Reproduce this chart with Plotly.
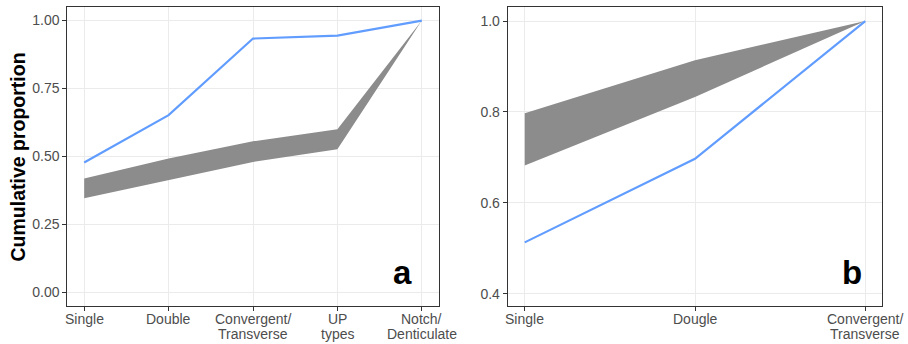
import plotly.graph_objects as go

# Panel a
cats_a = ["Single", "Double", "Convergent/<br>Transverse", "UP<br>types", "Notch/<br>Denticulate"]
blue_a = [0.478, 0.652, 0.934, 0.945, 1.0]
ribbon_hi_a = [0.419, 0.493, 0.556, 0.600, 1.0]
ribbon_lo_a = [0.346, 0.414, 0.480, 0.527, 1.0]

# Panel b
cats_b = ["Single", "Dougle", "Convergent/<br>Transverse"]
blue_b = [0.513, 0.697, 1.0]
ribbon_hi_b = [0.797, 0.914, 1.0]
ribbon_lo_b = [0.682, 0.833, 1.0]

yticks_a = [0.0, 0.25, 0.5, 0.75, 1.0]
yticklabels_a = ["0.00", "0.25", "0.50", "0.75", "1.00"]
yticks_b = [0.4, 0.6, 0.8, 1.0]
yticklabels_b = ["0.4", "0.6", "0.8", "1.0"]

BLUE = "#619CFF"
GREY = "#8c8c8c"
FONT = "Liberation Sans, Arial, sans-serif"
H = 344
W = 908

fig = go.Figure()
annotations = []

def add_panel(cats, blue, hi, lo, xa, ya):
    idx = list(range(len(cats)))
    fig.add_trace(go.Scatter(
        x=idx + idx[::-1], y=hi + lo[::-1], fill="toself", mode="lines",
        line=dict(width=0), fillcolor=GREY, hoverinfo="skip", showlegend=False,
        xaxis=xa, yaxis=ya))
    fig.add_trace(go.Scatter(
        x=idx, y=blue, mode="lines", line=dict(color=BLUE, width=2.2),
        showlegend=False, xaxis=xa, yaxis=ya))
    # category labels with tight line spacing (like ggplot)
    for i, c in zip(idx, cats):
        for j, line in enumerate(c.split("<br>")):
            annotations.append(dict(
                text=line, x=i, xref=xa, y=(H - (319 + 15 * j)) / H, yref="paper",
                xanchor="center", yanchor="middle", showarrow=False,
                font=dict(family=FONT, size=14, color="#4d4d4d")))

add_panel(cats_a, blue_a, ribbon_hi_a, ribbon_lo_a, "x", "y")
add_panel(cats_b, blue_b, ribbon_hi_b, ribbon_lo_b, "x2", "y2")

ax_common = dict(
    showline=True, linecolor="#333333", linewidth=1, mirror=True,
    showgrid=True, gridcolor="#ebebeb", gridwidth=1, zeroline=False,
    ticks="outside", ticklen=4, tickcolor="#333333", tickwidth=1,
    tickfont=dict(family=FONT, size=14, color="#4d4d4d"),
    automargin=False,
)

annotations += [
    dict(text="<b>Cumulative proportion</b>", x=17 / W, y=(H - 157.5) / H,
         xref="paper", yref="paper", xanchor="center", yanchor="middle",
         showarrow=False, textangle=-90, font=dict(family=FONT, size=19.5, color="black")),
    dict(text="<b>a</b>", x=402 / W, y=(H - 272.5) / H, xref="paper", yref="paper",
         xanchor="center", yanchor="middle",
         showarrow=False, font=dict(family=FONT, size=33, color="black")),
    dict(text="<b>b</b>", x=852 / W, y=(H - 272.5) / H, xref="paper", yref="paper",
         xanchor="center", yanchor="middle",
         showarrow=False, font=dict(family=FONT, size=33, color="black")),
]

ydom = [(H - 306) / H, (H - 7) / H]
fig.update_layout(
    width=W, height=H, margin=dict(l=0, r=0, t=0, b=0),
    plot_bgcolor="white", paper_bgcolor="white",
    xaxis=dict(domain=[67.3 / W, 438.7 / W], range=[-0.2, 4.2],
               tickvals=list(range(len(cats_a))), showticklabels=False, anchor="y", **ax_common),
    yaxis=dict(domain=ydom, range=[-0.05, 1.05], tickvals=yticks_a, ticktext=yticklabels_a,
               anchor="x", **ax_common),
    xaxis2=dict(domain=[507.7 / W, 882.3 / W], range=[-0.1, 2.1],
                tickvals=list(range(len(cats_b))), showticklabels=False, anchor="y2", **ax_common),
    yaxis2=dict(domain=ydom, range=[0.373, 1.031], tickvals=yticks_b, ticktext=yticklabels_b,
                anchor="x2", **ax_common),
    annotations=annotations,
)

fig.write_html("out.html", config={"displayModeBar": False},
               post_script="document.body.style.margin='0';")
